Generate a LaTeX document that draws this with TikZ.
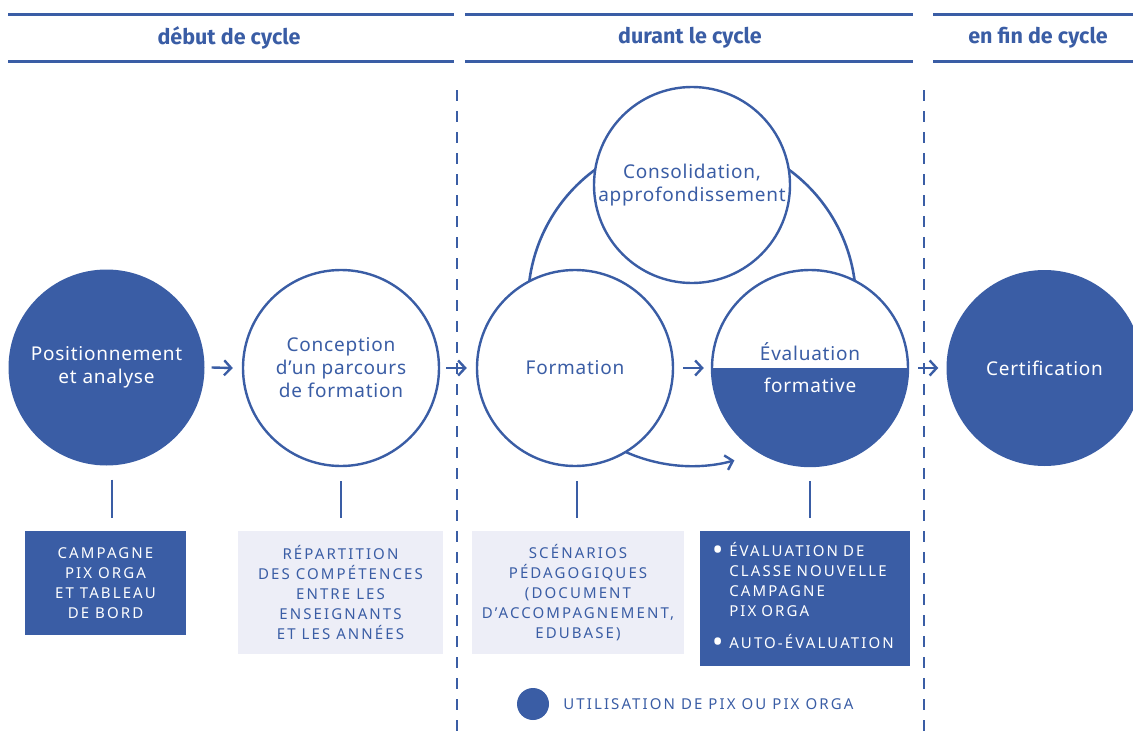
\documentclass[tikz,border=0pt]{standalone}
\usepackage{fontspec}
\setmainfont{Noto Sans}[LetterSpace=4]
\newfontfamily\headfont{Fira Sans}
\newfontfamily\capsfont{Noto Sans}[LetterSpace=14]
\usetikzlibrary{arrows.meta,backgrounds,positioning}
\definecolor{pixblue}{RGB}{58,93,165}
\definecolor{pixpale}{RGB}{237,238,247}

\begin{document}
\begin{tikzpicture}[x=1pt,y=-1pt,
  phase/.style={font=\headfont\bfseries\fontsize{21.5}{22}\selectfont, text=pixblue},
  band/.style={line width=3pt, draw=pixblue},
  divider/.style={line width=2.6pt, draw=pixblue, dash pattern=on 11pt off 10pt},
  stage/.style={circle, minimum size=196pt, inner sep=0pt, align=center,
    font=\fontsize{19}{23}\selectfont},
  disc/.style={stage, fill=pixblue, text=white},
  ring/.style={stage, draw=pixblue, line width=2.4pt, fill=white, text=pixblue},
  halfdisc/.style={ring, path picture={\fill[pixblue] (path picture bounding box.west)
    rectangle (path picture bounding box.south east);}},
  tool/.style={align=center, inner sep=0pt, font=\capsfont\fontsize{15}{20}\selectfont},
  darkbox/.style={tool, fill=pixblue, text=white},
  palebox/.style={tool, fill=pixpale, text=pixblue},
  arr/.style={-{Straight Barb[length=7pt,width=15pt]}, line width=2.4pt, draw=pixblue},
  stem/.style={line width=2.6pt, draw=pixblue}]

  \useasboundingbox (0,0) rectangle (1133,755);

  %% phases
  \draw[band] (8,14) -- (454,14);
  \draw[band] (8,61) -- (454,61);
  \draw[band] (465,14) -- (913,14);
  \draw[band] (465,61) -- (913,61);
  \draw[band] (933,14) -- (1133,14);
  \draw[band] (933,61) -- (1133,61);
  \node[phase] (debut) at (229,38) {début de cycle};
  \node[phase] (durant) at (690,38) {durant le cycle};
  \node[phase] (fin) at (1038,38) {en fin de cycle};

  \draw[divider] (457,90) -- (457,738);
  \draw[divider] (924,90) -- (924,738);

  %% stages
  \node[disc] (pos) at (106.5,367.5) {Positionnement\\et analyse};
  \node[ring] (conc) at (341,368) {Conception\\d’un parcours\\de formation};
  \node[ring] (form) at (575,368) {Formation};
  \node[ring] (cons) at (692,185) {Consolidation,\\approfondissement};
  \node[halfdisc] (eval) at (810,368) {\textcolor{pixblue}{Évaluation}\\[9pt]\textcolor{white}{formative}};
  \node[disc] (cert) at (1044.5,368) {Certification};

  \draw[arr] ([xshift=7pt]pos.east) -- ([xshift=-9pt]conc.west); %% pos->conc
  \draw[arr] ([xshift=6pt]conc.east) -- ([xshift=-9pt]form.west); %% conc->form
  \draw[arr] ([xshift=9pt]form.east) -- ([xshift=-7pt]eval.west); %% form->eval
  \draw[arr] ([xshift=9pt]eval.east) -- ([xshift=-8pt]cert.west); %% eval->cert

  %% cycle
  \coordinate (hub) at (692,302);
  \begin{pgfonlayer}{background}
    \draw[stem] (hub) ++(178:164pt) arc[start angle=178, end angle=120, radius=164pt];
    \draw[stem] (hub) ++(60:164pt) arc[start angle=60, end angle=2, radius=164pt];
    \draw[arr] (hub) ++(240:164pt) arc[start angle=240, end angle=285, radius=164pt];
  \end{pgfonlayer}

  %% tools
  \node[darkbox, minimum width=161pt, minimum height=104pt] (camp) at (105.5,583)
    {CAMPAGNE\\PIX ORGA\\ET TABLEAU\\DE BORD};
  \node[palebox, minimum width=205pt, minimum height=123pt] (repart) at (340.5,592.5)
    {RÉPARTITION\\DES COMPÉTENCES\\ENTRE LES\\ENSEIGNANTS\\ET LES ANNÉES};
  \node[palebox, minimum width=212pt, minimum height=123pt] (scen) at (578,592.5)
    {SCÉNARIOS\\PÉDAGOGIQUES\\(DOCUMENT\\D’ACCOMPAGNEMENT,\\EDUBASE)};
  \node[darkbox, minimum width=210pt, minimum height=135pt, text width=186pt, align=left] (evalbox) at (805,598.5)
    {\begin{tabular}{@{}l@{\hspace{6pt}}l@{}}
      \raisebox{-4pt}{\scalebox{2}{\textbullet}} & ÉVALUATION DE\\
       & CLASSE NOUVELLE\\
       & CAMPAGNE\\
       & PIX ORGA\\[12pt]
      \raisebox{-4pt}{\scalebox{2}{\textbullet}} & AUTO-ÉVALUATION
    \end{tabular}};

  \draw[stem] ([xshift=5.5pt,yshift=-14pt]pos.south) -- ([xshift=5.5pt,yshift=13pt]pos.south |- camp.north);
  \draw[stem] ([yshift=-14pt]conc.south) -- ([yshift=13pt]conc.south |- repart.north);
  \draw[stem] ([xshift=2pt,yshift=-14pt]form.south) -- ([xshift=2pt,yshift=13pt]form.south |- scen.north);
  \draw[stem] ([yshift=-14pt]eval.south) -- ([yshift=13pt]eval.south |- evalbox.north);

  %% legend
  \node[circle, fill=pixblue, minimum size=32pt, inner sep=0pt] (key) at (533,704) {};
  \node[tool, text=pixblue, right=14pt of key] (keytext) {UTILISATION DE PIX OU PIX ORGA};
\end{tikzpicture}
\end{document}
